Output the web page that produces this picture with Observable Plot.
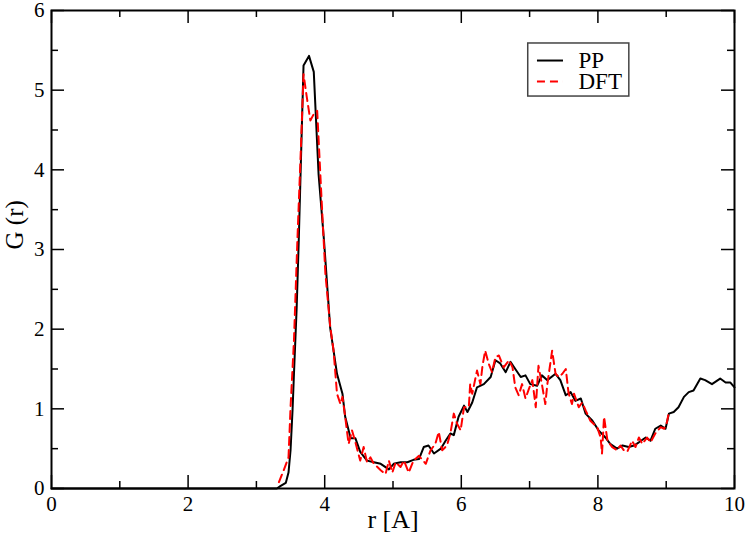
<!DOCTYPE html>
<html><head><meta charset="utf-8">
<script src="https://cdn.jsdelivr.net/npm/d3@7"></script>
<script src="https://cdn.jsdelivr.net/npm/@observablehq/plot@0.6"></script>
<style>body{margin:0;background:#fff}</style>
</head><body><div id="chart"></div>
<script>
// ---- data ----
const ppR = [0, 3.30, 3.35, 3.43, 3.47, 3.50, 3.53, 3.55, 3.59, 3.62, 3.66, 3.69, 3.77, 3.84, 3.91, 3.99, 4.08, 4.18, 4.26, 4.30, 4.38, 4.45, 4.52, 4.62, 4.72, 4.82, 4.94, 5.01, 5.11, 5.21, 5.30, 5.38, 5.45, 5.52, 5.60, 5.70, 5.77, 5.84, 5.89, 5.96, 6.04, 6.09, 6.16, 6.23, 6.33, 6.43, 6.50, 6.57, 6.65, 6.72, 6.79, 6.87, 6.94, 7.01, 7.11, 7.18, 7.26, 7.38, 7.45, 7.53, 7.60, 7.67, 7.75, 7.82, 7.92, 8.01, 8.11, 8.18, 8.28, 8.36, 8.45, 8.53, 8.60, 8.70, 8.77, 8.84, 8.92, 8.99, 9.04, 9.11, 9.18, 9.26, 9.33, 9.40, 9.50, 9.57, 9.67, 9.79, 9.87, 9.94, 10.0];
const ppG = [0, 0, 0.03, 0.07, 0.20, 0.48, 1.00, 1.44, 2.28, 3.11, 4.37, 5.31, 5.43, 5.23, 3.95, 3.11, 2.02, 1.44, 1.19, 0.90, 0.63, 0.63, 0.46, 0.35, 0.33, 0.31, 0.24, 0.31, 0.33, 0.33, 0.36, 0.37, 0.52, 0.54, 0.44, 0.50, 0.60, 0.69, 0.67, 0.90, 1.04, 0.96, 1.08, 1.27, 1.31, 1.40, 1.61, 1.57, 1.46, 1.59, 1.50, 1.40, 1.42, 1.31, 1.29, 1.42, 1.36, 1.44, 1.36, 1.17, 1.21, 1.10, 1.13, 0.94, 0.85, 0.73, 0.64, 0.56, 0.50, 0.54, 0.52, 0.54, 0.58, 0.64, 0.60, 0.75, 0.79, 0.75, 0.94, 0.96, 1.02, 1.15, 1.21, 1.23, 1.38, 1.36, 1.31, 1.38, 1.33, 1.33, 1.27];

const dftR = [3.33, 3.40, 3.47, 3.50, 3.55, 3.60, 3.65, 3.69, 3.74, 3.79, 3.84, 3.89, 3.96, 4.01, 4.08, 4.13, 4.18, 4.23, 4.26, 4.30, 4.35, 4.40, 4.45, 4.52, 4.57, 4.62, 4.67, 4.72, 4.82, 4.89, 4.94, 4.99, 5.04, 5.11, 5.16, 5.23, 5.30, 5.38, 5.48, 5.55, 5.62, 5.67, 5.72, 5.79, 5.84, 5.89, 5.94, 5.99, 6.04, 6.11, 6.13, 6.16, 6.23, 6.28, 6.31, 6.35, 6.40, 6.45, 6.50, 6.55, 6.62, 6.70, 6.75, 6.79, 6.84, 6.89, 6.94, 6.99, 7.04, 7.09, 7.13, 7.18, 7.23, 7.26, 7.33, 7.38, 7.43, 7.48, 7.53, 7.57, 7.62, 7.65, 7.72, 7.77, 7.82, 7.89, 7.99, 8.04, 8.06, 8.09, 8.14, 8.21, 8.28, 8.33, 8.38, 8.43, 8.50, 8.55, 8.60, 8.65, 8.72, 8.77, 8.84, 8.92, 8.97, 9.01, 9.04];
const dftG = [0.08, 0.23, 0.39, 1.02, 1.86, 3.11, 4.24, 5.20, 4.90, 4.62, 4.70, 4.74, 3.53, 2.70, 2.04, 1.73, 1.19, 1.06, 1.15, 0.90, 0.56, 0.73, 0.58, 0.35, 0.52, 0.33, 0.39, 0.31, 0.23, 0.18, 0.35, 0.20, 0.33, 0.27, 0.35, 0.20, 0.35, 0.41, 0.31, 0.48, 0.56, 0.71, 0.48, 0.54, 0.69, 0.94, 0.81, 0.73, 1.02, 1.02, 1.31, 1.19, 1.48, 1.31, 1.54, 1.73, 1.57, 1.46, 1.65, 1.67, 1.52, 1.61, 1.52, 1.27, 1.17, 1.31, 1.13, 1.25, 1.36, 1.02, 1.54, 1.31, 1.06, 1.31, 1.73, 1.44, 1.40, 1.44, 1.50, 1.20, 1.06, 1.19, 1.02, 1.08, 0.98, 0.85, 0.77, 0.64, 0.44, 0.90, 0.60, 0.52, 0.48, 0.54, 0.48, 0.46, 0.60, 0.52, 0.64, 0.56, 0.64, 0.58, 0.69, 0.77, 0.75, 0.83, 0.96];

const xTicks = [0, 2, 4, 6, 8, 10];
const xMinor = [1, 3, 5, 7, 9];
const yTicks = [0, 1, 2, 3, 4, 5, 6];
const yMinor = [0.5, 1.5, 2.5, 3.5, 4.5, 5.5];
const seriesNames = ["PP", "DFT"];
const seriesColors = ["#000000", "#ff0000"];
const xLabel = "r [A]";
const yLabel = "G (r)";

// ---- build ----
const W = 747, H = 543;
const mL = 51, mR = 13, mT = 10, mB = 55;
const fw = W - mL - mR, fh = H - mT - mB;
const MAJ = 13, MIN = 7;
const font = "Liberation Serif";

const pp = ppR.map((r, i) => ({r, g: ppG[i]}));
const dft = dftR.map((r, i) => ({r, g: dftG[i]}));

// legend placement (data coordinates)
const legBox = {x1: 6.98, x2: 8.46, y1: 4.92, y2: 5.586};
const legRows = seriesNames.map((name, i) => ({
  name, color: seriesColors[i], dash: i === 1 ? "8,5" : null,
  y: [5.372, 5.108][i]
}));

const tickStyle = {stroke: "black", strokeWidth: 1.5};
const fmt = d => String(d);

const chart = Plot.plot({
  width: W, height: H,
  marginLeft: mL, marginRight: mR, marginTop: mT, marginBottom: mB,
  style: {fontFamily: font, background: "white", color: "black"},
  x: {domain: [0, 10], ticks: xTicks},
  y: {domain: [0, 6], ticks: yTicks},
  marks: [
    Plot.line(pp, {x: "r", y: "g", stroke: seriesColors[0], strokeWidth: 2}),
    Plot.line(dft, {x: "r", y: "g", stroke: seriesColors[1], strokeWidth: 2, strokeDasharray: "8,5"}),
    // ticks inside, all four sides
    Plot.ruleX(xTicks, {x: d => d, insetTop: fh - MAJ, ...tickStyle}),
    Plot.ruleX(xTicks, {x: d => d, insetBottom: fh - MAJ, ...tickStyle}),
    Plot.ruleX(xMinor, {x: d => d, insetTop: fh - MIN, ...tickStyle}),
    Plot.ruleX(xMinor, {x: d => d, insetBottom: fh - MIN, ...tickStyle}),
    Plot.ruleY(yTicks, {y: d => d, insetRight: fw - MAJ, ...tickStyle}),
    Plot.ruleY(yTicks, {y: d => d, insetLeft: fw - MAJ, ...tickStyle}),
    Plot.ruleY(yMinor, {y: d => d, insetRight: fw - MIN, ...tickStyle}),
    Plot.ruleY(yMinor, {y: d => d, insetLeft: fw - MIN, ...tickStyle}),
    Plot.axisX(xTicks, {tickSize: 0, tickPadding: 8, fontSize: 21, fontFamily: font, tickFormat: fmt, label: null, fill: "black"}),
    Plot.axisY(yTicks, {tickSize: 0, tickPadding: 7, fontSize: 21, fontFamily: font, tickFormat: fmt, label: null, fill: "black"}),
    Plot.frame({stroke: "black", strokeWidth: 2}),
    Plot.text([xLabel], {frameAnchor: "bottom", dy: 31, fontSize: 26, fontFamily: font, text: d => d, lineAnchor: "middle", fill: "black"}),
    Plot.text([yLabel], {frameAnchor: "left", dx: -37, rotate: -90, fontSize: 25, fontFamily: font, text: d => d, lineAnchor: "middle", fill: "black"}),
    // legend
    Plot.rect([legBox], {x1: "x1", x2: "x2", y1: "y1", y2: "y2", fill: "white", stroke: "#444", strokeWidth: 1.5}),
    Plot.ruleY(legRows.filter(d => !d.dash), {y: "y", x1: 7.115, x2: 7.496, stroke: "color", strokeWidth: 2}),
    Plot.ruleY(legRows.filter(d => d.dash), {y: "y", x1: 7.115, x2: 7.496, stroke: "color", strokeWidth: 2, strokeDasharray: "8,5"}),
    Plot.text(legRows, {x: 7.716, y: "y", text: "name", textAnchor: "start", lineAnchor: "middle", fontSize: 23, fontFamily: font, fill: "black"})
  ]
});
document.getElementById("chart").appendChild(chart);
</script>
</body></html>
